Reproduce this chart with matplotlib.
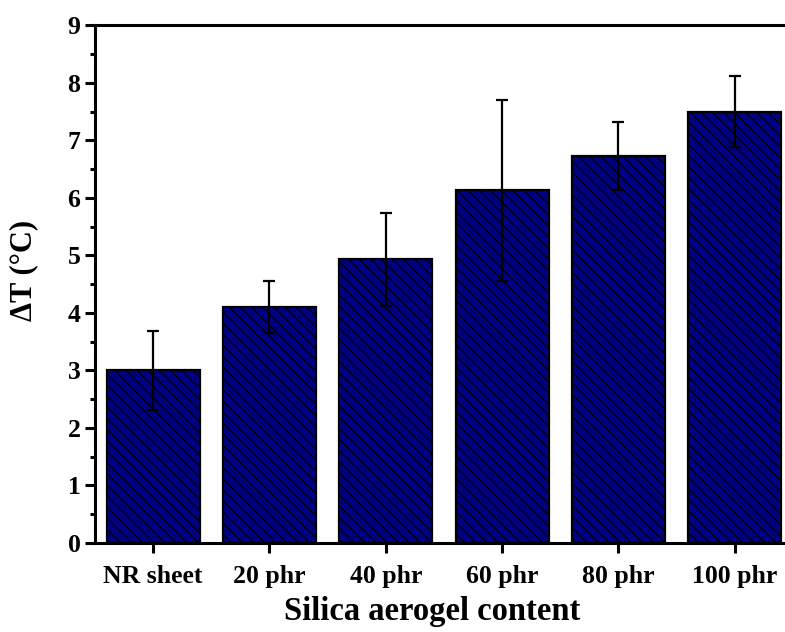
import numpy as np
import matplotlib.pyplot as plt
from matplotlib.ticker import MultipleLocator

# Delta T for each silica aerogel loading
samples = ["NR sheet", "20 phr", "40 phr", "60 phr", "80 phr", "100 phr"]
delta_t = [3.0, 4.1, 4.93, 6.13, 6.72, 7.5]
err = [0.69, 0.45, 0.81, 1.57, 0.59, 0.61]

plt.rcParams['font.family'] = ['Liberation Serif', 'DejaVu Serif']
plt.rcParams['font.weight'] = 'bold'
plt.rcParams['hatch.linewidth'] = 0.9
plt.rcParams['hatch.color'] = 'black'

fig = plt.figure(figsize=(7.85, 6.32), dpi=100)
ax = fig.add_axes([0.121, 0.141, 0.889, 0.819])

x = np.arange(len(samples))
ax.bar(x, delta_t, width=0.8, color='#000080', edgecolor='black', linewidth=1.6,
       hatch='\\\\\\', zorder=2)
ax.errorbar(x, delta_t, yerr=err, fmt='none', ecolor='black', elinewidth=1.6,
            capsize=4.5, capthick=1.6, zorder=3)

ax.set_xlim(-0.5, 5.5)
ax.set_ylim(0, 9)
ax.set_xticks(x)
ax.set_xticklabels(samples, fontsize=18.5, fontweight='bold')
ax.yaxis.set_major_locator(MultipleLocator(1))
ax.yaxis.set_minor_locator(MultipleLocator(0.5))
for lab in ax.get_yticklabels():
    lab.set_fontsize(18.5)
    lab.set_fontweight('bold')

for s in ax.spines.values():
    s.set_linewidth(2.2)

ax.tick_params(axis='both', which='major', direction='out', length=7, width=2.2, top=False, right=False)
ax.tick_params(axis='x', which='major', pad=9)
ax.tick_params(axis='y', which='minor', direction='out', length=3.5, width=2.2)
ax.tick_params(axis='x', which='minor', bottom=False)

ax.set_xlabel("Silica aerogel content", fontsize=23.5, fontweight='bold')
ax.set_ylabel("ΔT (°C)", fontsize=22, fontweight='bold')
ax.xaxis.set_label_coords(0.483, -0.102)
ax.yaxis.set_label_coords(-0.082, 0.526)

fig.savefig("out.png", dpi=100)
